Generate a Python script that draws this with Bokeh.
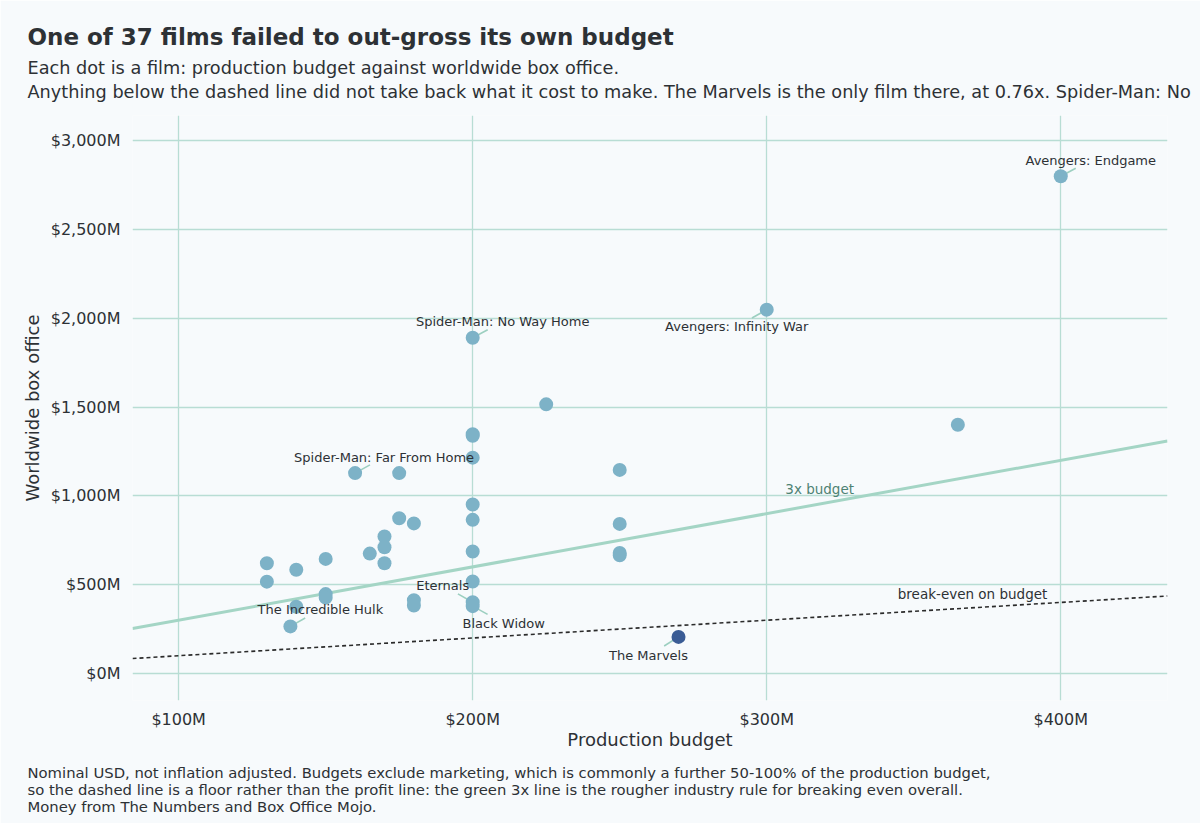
from bokeh.plotting import figure
from bokeh.models import Title, FixedTicker, Range1d, ColumnDataSource
from bokeh.core.properties import value
from bokeh.embed import file_html
from bokeh.resources import INLINE
import math

# ---------------- data (millions of USD) ----------------
budget_m = [400, 300, 200, 225, 365, 200, 200, 200, 160, 175, 250, 200, 200,
            175, 180, 250, 170, 170, 165, 170, 200, 250, 250, 150, 130, 130,
            140, 200, 150, 150, 140, 180, 180, 200, 200, 138, 270]
gross_m = [2799, 2048, 1890, 1515, 1400, 1347, 1338, 1215, 1128, 1128, 1146, 951, 865,
           874, 845, 842, 771, 711, 675, 621, 687, 678, 665, 645, 621, 517,
           584, 518, 447, 427, 376, 412, 383, 401, 379, 265, 206]
names = ["Avengers: Endgame", "Avengers: Infinity War", "Spider-Man: No Way Home", "", "",
         "", "", "", "Spider-Man: Far From Home", "", "", "", "",
         "", "", "", "", "", "", "", "", "", "", "", "", "",
         "", "", "", "", "", "", "", "Eternals", "Black Widow", "The Incredible Hulk", "The Marvels"]
highlight = "The Marvels"

# label placement (screen px offsets of text centre from the dot; y down)
label_dx = {"Avengers: Endgame": 30, "Avengers: Infinity War": -30, "Spider-Man: No Way Home": 30,
            "Spider-Man: Far From Home": 29, "Eternals": -30, "Black Widow": 31,
            "The Incredible Hulk": 30, "The Marvels": -30}
label_dy = {"Avengers: Endgame": -16, "Avengers: Infinity War": 17, "Spider-Man: No Way Home": -16,
            "Spider-Man: Far From Home": -16, "Eternals": -17, "Black Widow": 17,
            "The Incredible Hulk": -17, "The Marvels": 19}

x_ticks = [100, 200, 300, 400]
x_tick_labels = ["$100M", "$200M", "$300M", "$400M"]
y_ticks = [0, 500, 1000, 1500, 2000, 2500, 3000]
y_tick_labels = ["$0M", "$500M", "$1,000M", "$1,500M", "$2,000M", "$2,500M", "$3,000M"]

rule_multiple = 3

title = "One of 37 films failed to out-gross its own budget"
subtitle = ("Each dot is a film: production budget against worldwide box office.\n"
            "Anything below the dashed line did not take back what it cost to make. "
            "The Marvels is the only film there, at 0.76x. Spider-Man: No")
footer = ("Nominal USD, not inflation adjusted. Budgets exclude marketing, which is commonly a further "
          "50-100% of the production budget,\n"
          "so the dashed line is a floor rather than the profit line: the green 3x line is the rougher "
          "industry rule for breaking even overall.\n"
          "Money from The Numbers and Box Office Mojo.")

# ---------------- style ----------------
FONT = "DejaVu Sans"
BG = "#F7FAFC"
GRID = "#B8DDD4"
DOT = "#7DB2C7"
DOT_HI = "#3A5C95"
RULE = "#A4D5C5"
TEXT = "#2D3135"
LEAD = "#9CCFC0"

x0, x1 = 84.3, 436.3
p = figure(frame_width=1035, frame_height=585,
           x_range=Range1d(x0, x1), y_range=Range1d(-152, 3141),
           output_backend="svg", toolbar_location=None,
           min_border_left=132, min_border_right=33, min_border_top=115, min_border_bottom=10,
           background_fill_color=BG, border_fill_color=BG, outline_line_color=None)
p.title = None

# titles (above: first added is nearest the plot)
p.add_layout(Title(text=subtitle, text_font=FONT, text_font_size="17.7px", text_font_style="normal",
                   text_color=TEXT, align="left", offset=-105, standoff=27,
                   text_line_height=1.2), "above")
p.add_layout(Title(text=title, text_font=FONT, text_font_size="23px", text_font_style="bold",
                   text_color=TEXT, align="left", offset=-105, standoff=-14), "above")

# footer
p.add_layout(Title(text=footer, text_font=FONT, text_font_size="14.8px", text_font_style="normal",
                   text_color=TEXT, align="left", offset=-105, standoff=18,
                   text_line_height=1.0), "below")

# axes
for ax in (p.xaxis[0], p.yaxis[0]):
    ax.axis_line_color = None
    ax.major_tick_line_color = None
    ax.minor_tick_line_color = None
    ax.major_label_text_font = FONT
    ax.major_label_text_font_size = "16px"
    ax.major_label_text_color = TEXT
    ax.axis_label_text_font = FONT
    ax.axis_label_text_font_size = "18px"
    ax.axis_label_text_font_style = "normal"
    ax.axis_label_text_color = TEXT
p.xaxis.ticker = FixedTicker(ticks=x_ticks)
p.xaxis.major_label_overrides = dict(zip(x_ticks, x_tick_labels))
p.yaxis.ticker = FixedTicker(ticks=y_ticks)
p.yaxis.major_label_overrides = dict(zip(y_ticks, y_tick_labels))
p.xaxis.axis_label = "Production budget"
p.yaxis.axis_label = "Worldwide box office"
p.xaxis.major_label_standoff = 3
p.xaxis.axis_label_standoff = -3
p.yaxis.major_label_standoff = 6
p.yaxis.axis_label_standoff = 5

p.xgrid.ticker = FixedTicker(ticks=x_ticks)
p.ygrid.ticker = FixedTicker(ticks=y_ticks)
p.grid.grid_line_color = GRID
p.grid.grid_line_width = 1.3

# reference lines
p.line([x0, x1], [rule_multiple * x0, rule_multiple * x1], line_color=RULE, line_width=3)
p.line([x0, x1], [x0, x1], line_color="#2B2B2B", line_width=1.6, line_dash="4 3")

p.text(x=[318], y=[rule_multiple * 318], text=["3x budget"], y_offset=[-15],
       text_font=value(FONT), text_font_size="13.5px", text_color="#4E8273",
       text_align="center", text_baseline="middle")
p.text(x=[370], y=[370], text=["break-even on budget"], y_offset=[-14],
       text_font=value(FONT), text_font_size="13.5px", text_color=TEXT,
       text_align="center", text_baseline="middle")

# leader lines + labels
lx, ly, lt, lxo, lyo, ang = [], [], [], [], [], []
for b, g, n in zip(budget_m, gross_m, names):
    if n:
        lx.append(b); ly.append(g); lt.append(n)
        dx, dy = label_dx[n], label_dy[n]
        lxo.append(dx); lyo.append(dy)
        ang.append(math.degrees(math.atan2(-dy, dx)))
p.ray(x=lx, y=ly, length=17, angle=ang, length_units="screen", angle_units="deg",
      line_color=LEAD, line_width=1.6)

colors = [DOT_HI if n == highlight else DOT for n in names]
src = ColumnDataSource(dict(x=budget_m, y=gross_m, c=colors))
p.scatter(x="x", y="y", color="c", size=14, marker="circle", line_color=None, source=src)

lsrc = ColumnDataSource(dict(x=lx, y=ly, t=lt, xo=lxo, yo=lyo))
p.text(x="x", y="y", text="t", x_offset="xo", y_offset="yo", source=lsrc,
       text_font=value(FONT), text_font_size="13px", text_color=TEXT,
       text_align="center", text_baseline="middle")

open("out.html", "w").write(file_html(p, INLINE))
